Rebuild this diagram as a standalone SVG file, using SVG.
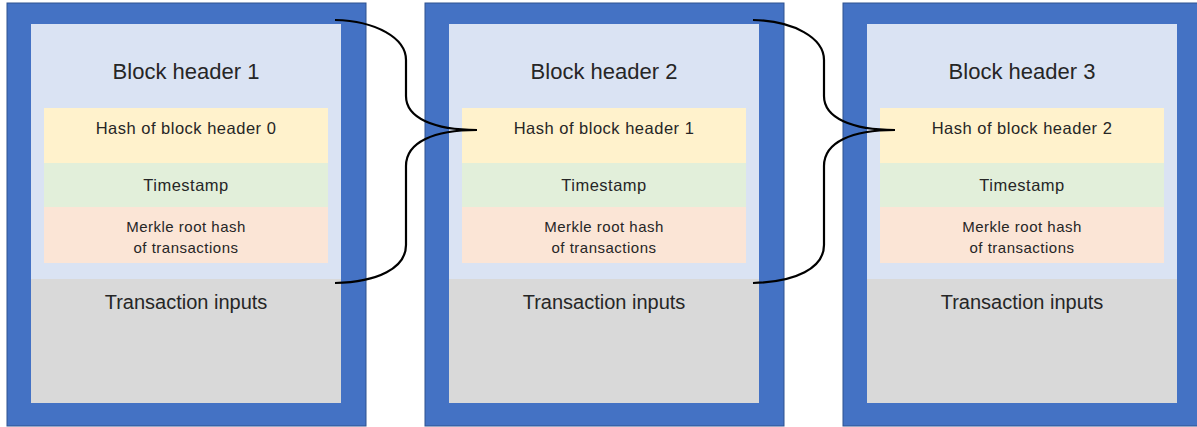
<svg xmlns="http://www.w3.org/2000/svg" width="1197" height="427" viewBox="0 0 1197 427">
  <style>
    .frame { fill: #4472C4; stroke: #2F528F; stroke-width: 1; }
    .header { fill: #DAE3F3; }
    .prev { fill: #FFF2CC; }
    .time { fill: #E2EFDA; }
    .merkle { fill: #FBE5D6; }
    .tx { fill: #D9D9D9; }
    text { font-family: "Liberation Sans", Arial, sans-serif; fill: #262626; text-anchor: middle; }
    .t-head { font-size: 22px; }
    .t-field { font-size: 16.5px; letter-spacing: 0.5px; }
    .t-merkle { font-size: 15px; letter-spacing: 0.5px; }
    .t-tx { font-size: 20px; }
    .brace { fill: none; stroke: #000; stroke-width: 2.2; }
  </style>
  <defs>
    <!-- one block: frame, header fields and transaction area -->
    <g id="block-shape">
      <rect class="frame" x="7" y="3" width="359" height="423"/>
      <rect class="header" x="31" y="24" width="310" height="255"/>
      <rect class="tx" x="31" y="279" width="310" height="124"/>
      <rect class="prev" x="44" y="108" width="284" height="55"/>
      <rect class="time" x="44" y="163" width="284" height="44"/>
      <rect class="merkle" x="44" y="207" width="284" height="56"/>
      <text class="t-field" x="186" y="191">Timestamp</text>
      <text class="t-merkle" x="186" y="232">Merkle root hash</text>
      <text class="t-merkle" x="186" y="253">of transactions</text>
      <text class="t-tx" x="186" y="309">Transaction inputs</text>
    </g>
  </defs>

  <g id="block1">
    <use href="#block-shape"/>
    <text class="t-head" x="186" y="79">Block header 1</text>
    <text class="t-field" x="186" y="134">Hash of block header 0</text>
  </g>

  <g id="block2" transform="translate(418,0)">
    <use href="#block-shape"/>
    <text class="t-head" x="186" y="79">Block header 2</text>
    <text class="t-field" x="186" y="134">Hash of block header 1</text>
  </g>

  <g id="block3" transform="translate(836,0)">
    <use href="#block-shape"/>
    <text class="t-head" x="186" y="79">Block header 3</text>
    <text class="t-field" x="186" y="134">Hash of block header 2</text>
  </g>

  <!-- curly braces linking each header to the hash field of the next block -->
  <g id="connectors">
    <path class="brace" d="M335,20 C376,21 406,38 406,60 L406,96 C406,118 434,130 477,130 C434,130 406,142 406,166 L406,245 C406,268 378,282 335,283"/>
    <path class="brace" d="M753,20 C794,21 824,38 824,60 L824,96 C824,118 852,130 895,130 C852,130 824,142 824,166 L824,245 C824,268 796,282 753,283"/>
  </g>
</svg>
